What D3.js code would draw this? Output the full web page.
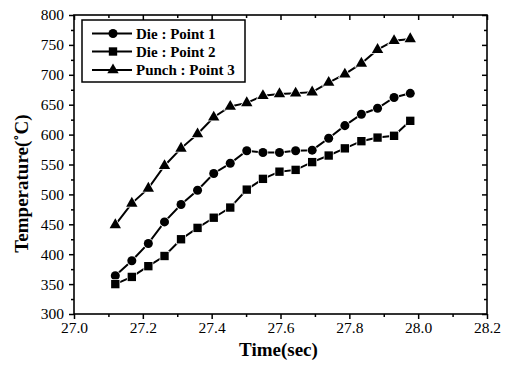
<!DOCTYPE html>
<html>
<head>
<meta charset="utf-8">
<script src="https://cdn.jsdelivr.net/npm/d3@7"></script>
<style>
  body { margin: 0; background: #fff; }
  svg { display: block; }
  svg text { font-family: "Liberation Serif", "Times New Roman", "DejaVu Serif", serif; }
</style>
</head>
<body>
<svg id="graph" width="507" height="369"></svg>
<script>
// time stamps (sec)
var times = [27.12, 27.168, 27.216, 27.263, 27.311, 27.359, 27.406, 27.454, 27.502, 27.549,
  27.597, 27.644, 27.692, 27.740, 27.787, 27.835, 27.882, 27.930, 27.977];

// temperatures (C)
var die1 = [364, 389, 418, 454, 483, 507, 535, 552, 573, 570, 570, 573, 574, 594, 615, 634, 644, 662, 669];
var die2 = [350, 362, 380, 397, 425, 444, 461, 478, 508, 526, 538, 541, 554, 565, 577, 589, 595, 598, 623];
var punch = [449, 485, 510, 548, 577, 601, 629, 647, 653, 665, 668, 669, 671, 687, 701, 719, 742, 757, 760];

var seriesNames = ["Die : Point 1", "Die : Point 2", "Punch : Point 3"];
var xTicks = [27.0, 27.2, 27.4, 27.6, 27.8, 28.0, 28.2];
var yTicks = [300, 350, 400, 450, 500, 550, 600, 650, 700, 750, 800];

var svg = d3.select("#graph");
var padL = 74, padR = 487, padT = 15, padB = 314;

var xScale = d3.scaleLinear().domain([27.0, 28.2]).range([padL, padR]);
var yScale = d3.scaleLinear().domain([300, 800]).range([padB, padT]);

var xMinor = [27.1, 27.3, 27.5, 27.7, 27.9, 28.1];
var yMinor = [325, 375, 425, 475, 525, 575, 625, 675, 725, 775];

var styleAxis = function (g) {
  g.attr("font-family", null).attr("font-size", 15.5);
  g.select(".domain").remove();
  g.selectAll(".tick line").attr("stroke", "#000").attr("stroke-width", 1.5);
  g.selectAll(".tick text").attr("fill", "#000");
};

// bottom axis (ticks out)
svg.append("g").attr("transform", "translate(0," + padB + ")")
  .call(d3.axisBottom(xScale).tickValues(xTicks).tickSize(5).tickPadding(3).tickFormat(d3.format(".1f")))
  .call(styleAxis);
svg.append("g").attr("transform", "translate(0," + padB + ")")
  .call(d3.axisBottom(xScale).tickValues(xMinor).tickSize(3).tickFormat(""))
  .call(styleAxis);

// left axis (ticks out)
svg.append("g").attr("transform", "translate(" + padL + ",0)")
  .call(d3.axisLeft(yScale).tickValues(yTicks).tickSize(5).tickPadding(5))
  .call(styleAxis);
svg.append("g").attr("transform", "translate(" + padL + ",0)")
  .call(d3.axisLeft(yScale).tickValues(yMinor).tickSize(3).tickFormat(""))
  .call(styleAxis);

// top axis (ticks in)
svg.append("g").attr("transform", "translate(0," + padT + ")")
  .call(d3.axisTop(xScale).tickValues(xTicks).tickSize(-5).tickFormat(""))
  .call(styleAxis);
svg.append("g").attr("transform", "translate(0," + padT + ")")
  .call(d3.axisTop(xScale).tickValues(xMinor).tickSize(-3).tickFormat(""))
  .call(styleAxis);

// right axis (ticks in)
svg.append("g").attr("transform", "translate(" + padR + ",0)")
  .call(d3.axisRight(yScale).tickValues(yTicks).tickSize(-5).tickFormat(""))
  .call(styleAxis);
svg.append("g").attr("transform", "translate(" + padR + ",0)")
  .call(d3.axisRight(yScale).tickValues(yMinor).tickSize(-3).tickFormat(""))
  .call(styleAxis);

// frame
svg.append("rect")
  .attr("x", padL).attr("y", padT)
  .attr("width", padR - padL).attr("height", padB - padT)
  .attr("fill", "none").attr("stroke", "#000").attr("stroke-width", 1.6);

// axis titles
svg.append("text")
  .attr("x", (padL + padR) / 2 - 2).attr("y", 356)
  .attr("text-anchor", "middle")
  .style("font-size", "19px").style("font-weight", "bold")
  .text("Time(sec)");

svg.append("text")
  .attr("transform", "translate(28," + ((padT + padB) / 2 + 19) + ") rotate(-90)")
  .attr("text-anchor", "middle")
  .style("font-size", "19px").style("font-weight", "bold")
  .text("Temperature(\u02DAC)");

var symbols = [d3.symbolCircle, d3.symbolSquare, d3.symbolTriangle];
var sizes = [64, 70, 56];
var allSeries = [die1, die2, punch];

var line = d3.line()
  .x(function (d, i) { return xScale(times[i]); })
  .y(function (d) { return yScale(d); });

allSeries.forEach(function (vals, s) {
  svg.append("path")
    .datum(vals)
    .attr("d", line)
    .attr("fill", "none")
    .attr("stroke", "#000")
    .attr("stroke-width", 2);

  var sym = d3.symbol().type(symbols[s]).size(sizes[s]);
  svg.append("g").selectAll("path")
    .data(vals)
    .enter()
    .append("path")
    .attr("transform", function (d, i) {
      return "translate(" + xScale(times[i]) + "," + yScale(d) + ")";
    })
    .attr("d", sym)
    .attr("fill", "#000")
    .attr("stroke", "#fff")
    .attr("stroke-width", 1.5)
    .style("paint-order", "stroke");
});

// legend
var legend = svg.append("g");
legend.append("rect")
  .attr("x", 82).attr("y", 20).attr("width", 163).attr("height", 62)
  .attr("fill", "#fff").attr("stroke", "#000").attr("stroke-width", 1.5);

var rowY = [33.5, 51.5, 70];
seriesNames.forEach(function (name, s) {
  legend.append("line")
    .attr("x1", 92).attr("x2", 132)
    .attr("y1", rowY[s]).attr("y2", rowY[s])
    .attr("stroke", "#000").attr("stroke-width", 2);
  legend.append("path")
    .attr("transform", "translate(113," + rowY[s] + ")")
    .attr("d", d3.symbol().type(symbols[s]).size(sizes[s]))
    .attr("fill", "#000");
  legend.append("text")
    .attr("x", 136).attr("y", rowY[s] + 5)
    .style("font-size", "15px").style("font-weight", "bold")
    .text(name);
});
</script>
</body>
</html>
